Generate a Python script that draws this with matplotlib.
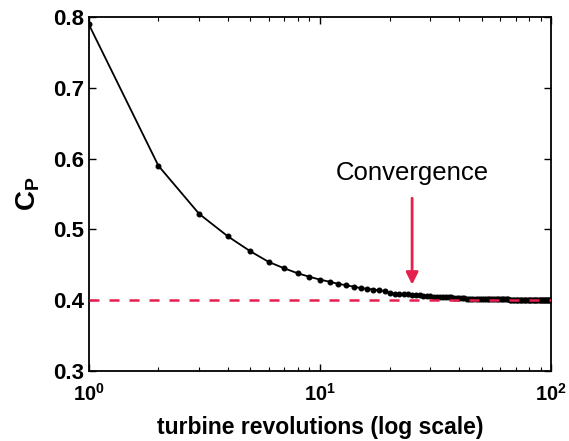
import matplotlib
matplotlib.use('Agg')
import matplotlib.pyplot as plt
from matplotlib.ticker import FixedLocator, LogLocator, NullFormatter

plt.rcParams['font.family'] = ['Liberation Sans', 'DejaVu Sans']
plt.rcParams['mathtext.fontset'] = 'custom'
plt.rcParams['mathtext.rm'] = 'Liberation Sans'
plt.rcParams['mathtext.bf'] = 'Liberation Sans:bold'

# power coefficient after each turbine revolution
revolutions = list(range(1, 101))
cp = [0.790, 0.590, 0.522, 0.490, 0.469, 0.454, 0.445, 0.438, 0.433, 0.429,
      0.426, 0.423, 0.421, 0.419, 0.417, 0.416, 0.415, 0.414, 0.413, 0.410,
      0.409, 0.409, 0.408, 0.408, 0.407, 0.407, 0.407, 0.406, 0.406, 0.406,
      0.405, 0.405, 0.405, 0.404, 0.404, 0.404, 0.404, 0.403, 0.403, 0.403,
      0.403, 0.403, 0.402, 0.402, 0.402, 0.402, 0.402, 0.402, 0.402, 0.401,
      0.401, 0.401, 0.401, 0.401, 0.401, 0.401, 0.401, 0.401, 0.401, 0.401,
      0.401, 0.401, 0.401, 0.401, 0.401, 0.400, 0.400, 0.400, 0.400, 0.400,
      0.400, 0.400, 0.400, 0.400, 0.400, 0.400, 0.400, 0.400, 0.400, 0.400,
      0.400, 0.400, 0.400, 0.400, 0.400, 0.400, 0.400, 0.400, 0.400, 0.400,
      0.400, 0.400, 0.400, 0.400, 0.400, 0.400, 0.400, 0.400, 0.400, 0.400]
cp_converged = 0.4
converged_at = 25

y_ticks = [0.3, 0.4, 0.5, 0.6, 0.7, 0.8]
x_ticks = [1, 10, 100]
x_tick_labels = [r'$\mathbf{10^0}$', r'$\mathbf{10^1}$', r'$\mathbf{10^2}$']

fig = plt.figure(figsize=(5.69, 4.41), dpi=100)
ax = fig.add_axes([0.156, 0.159, 0.813, 0.802])

ax.plot(revolutions, cp, color='black', linewidth=1.3,
        marker='o', markersize=3.3, zorder=2)
ax.plot([revolutions[0], revolutions[-1]], [cp_converged, cp_converged],
        color='#e6204c', linewidth=1.8, linestyle=(0, (4, 4)), zorder=3)

ax.annotate('', xy=(converged_at, 0.418), xytext=(converged_at, 0.548),
            arrowprops=dict(arrowstyle='-|>', color='#e6204c', lw=2,
                            mutation_scale=18))
ax.text(converged_at, 0.58, 'Convergence', fontsize=18.5,
        ha='center', va='center')

ax.set_xscale('log')
ax.set_xlim(1, 100)
ax.set_ylim(0.3, 0.8)
ax.xaxis.set_major_locator(FixedLocator(x_ticks))
ax.set_xticklabels(x_tick_labels, fontsize=14.5)
ax.xaxis.set_minor_locator(LogLocator(base=10, subs=range(2, 10)))
ax.xaxis.set_minor_formatter(NullFormatter())
ax.set_yticks(y_ticks)
ax.set_yticklabels(['%.1f' % v for v in y_ticks], fontsize=16,
                   fontweight='bold')
ax.tick_params(which='both', direction='in', top=True, right=True)
ax.tick_params(which='major', length=5, width=1)
ax.tick_params(which='minor', length=3, width=0.8)
ax.tick_params(axis='x', pad=9)

for side in ax.spines.values():
    side.set_linewidth(1.3)

ax.set_xlabel('turbine revolutions (log scale)', fontsize=16.5,
              fontweight='bold', labelpad=8)
ax.set_ylabel(r'$\mathbf{C_P}$', fontsize=20, labelpad=8)

fig.savefig('out.png', dpi=100)
